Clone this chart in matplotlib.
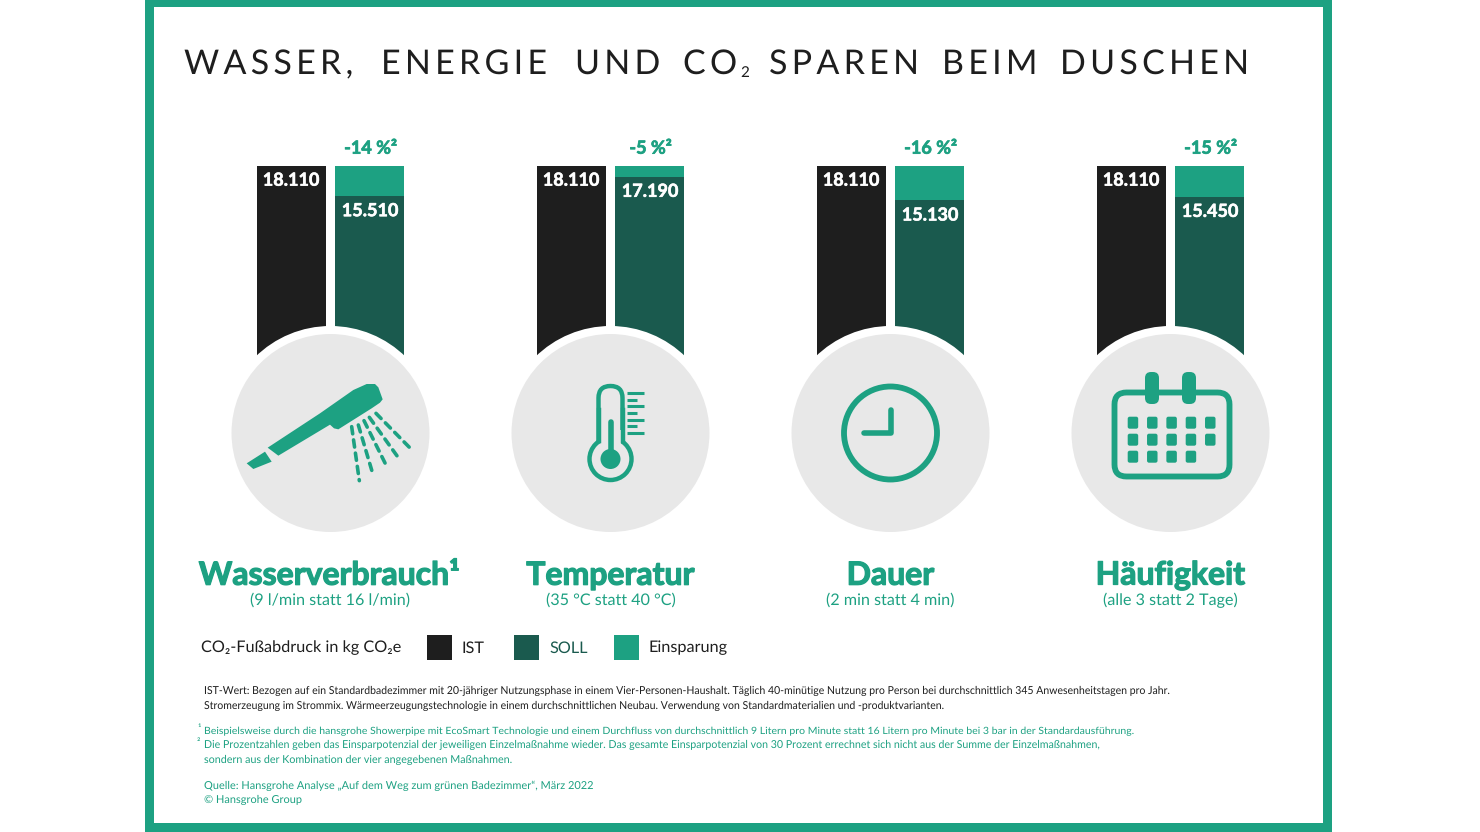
import matplotlib
matplotlib.use("Agg")
import matplotlib.pyplot as plt
import matplotlib.patheffects as pe
from matplotlib.patches import Rectangle, Circle, Polygon, FancyBboxPatch

# chart values
ist_values = [18110, 18110, 18110, 18110]
soll_values = [15510, 17190, 15130, 15450]
bar_labels_ist = ["18.110", "18.110", "18.110", "18.110"]
bar_labels_soll = ["15.510", "17.190", "15.130", "15.450"]
percent_labels = ["-14 %²", "-5 %²", "-16 %²", "-15 %²"]
headings = ["Wasserverbrauch¹", "Temperatur", "Dauer", "Häufigkeit"]
subheadings = ["(9 l/min statt 16 l/min)", "(35 °C statt 40 °C)", "(2 min statt 4 min)", "(alle 3 statt 2 Tage)"]

TEAL = "#1DA182"
DARK = "#1A5A4E"
BLACK = "#1E1E1E"
GREY = "#E8E8E8"
W, H = 1480, 832
PX_PER_UNIT = 0.01154
BASE_Y = 375
centers = [330.5, 610.5, 890.5, 1170.5]

plt.rcParams["font.family"] = ["Lato", "DejaVu Sans"]
plt.rcParams["text.hinting"] = "no_hinting"

fig = plt.figure(figsize=(W / 100, H / 100), dpi=100, facecolor="white")

# bars live on their own axes, y in kg CO2e
ax_bars = fig.add_axes([0, 0, 1, 1], zorder=1)
ax_bars.set_xlim(0, W)
ax_bars.set_ylim((BASE_Y - H) / PX_PER_UNIT, BASE_Y / PX_PER_UNIT)
ax_bars.axis("off")
bar_w = 69
for c, ist, soll in zip(centers, ist_values, soll_values):
    ax_bars.bar(c - 39.5, ist, width=bar_w, color=BLACK, linewidth=0)
    ax_bars.bar(c + 39, soll, width=bar_w, color=DARK, linewidth=0)
    ax_bars.bar(c + 39, ist - soll, bottom=soll, width=bar_w, color=TEAL, linewidth=0)
thin = [pe.withStroke(linewidth=0.4, foreground="white")]
thin_teal = [pe.withStroke(linewidth=0.5, foreground=TEAL)]
for c, ist, soll, l1, l2, p in zip(centers, ist_values, soll_values, bar_labels_ist, bar_labels_soll, percent_labels):
    ax_bars.text(c - 39.5, ist - 14.5 / PX_PER_UNIT, l1, color="white", fontsize=13, fontweight="bold",
                 ha="center", va="center", zorder=5, path_effects=thin)
    ax_bars.text(c + 39.5, soll - 15 / PX_PER_UNIT, l2, color="white", fontsize=13, fontweight="bold",
                 ha="center", va="center", zorder=5, path_effects=thin)
    ax_bars.text(c + 40, ist + 17.5 / PX_PER_UNIT, p, color=TEAL, fontsize=13, fontweight="bold",
                 ha="center", va="center", zorder=5, path_effects=thin_teal)

# everything else in pixel coordinates
ax = fig.add_axes([0, 0, 1, 1], zorder=2)
ax.patch.set_alpha(0)
ax.set_xlim(0, W)
ax.set_ylim(H, 0)
ax.axis("off")

# frame
for x, y, w, h in [(145, 0, 1187, 6.5), (145, 823, 1187, 9), (145, 0, 8.5, H), (1323, 0, 9, H)]:
    ax.add_patch(Rectangle((x, y), w, h, color=TEAL, linewidth=0))

# title, word by word since letters are spaced wide
title_words = [("WASSER,", 184), ("ENERGIE", 381), ("UND", 575), ("CO", 683), ("SPAREN", 769), ("BEIM", 942), ("DUSCHEN", 1060)]
for word, x in title_words:
    ax.text(x, 74, "\u2009".join(word), fontsize=24.5, color=BLACK, ha="left", va="baseline")
ax.text(740, 77, "2", fontsize=11, color=BLACK, ha="left", va="baseline")

# circles
for c in centers:
    ax.add_patch(Circle((c, 433), 107, color="white", linewidth=0))
    ax.add_patch(Circle((c, 433), 99, color=GREY, linewidth=0))


def zoom_pts(pts, ox, oy):
    return [(ox + x / 3, oy + y / 3) for x, y in pts]


# shower icon
handle = [(143, 353), (300, 250), (400, 180), (440, 162), (465, 162), (475, 172), (488, 208), (480, 218),
          (455, 235), (355, 298), (342, 295), (330, 284), (175, 377)]
nozzle = [(80, 400), (135, 365), (155, 395), (100, 417)]
ax.add_patch(Polygon(zoom_pts(handle, 220, 330), closed=True, color=TEAL, linewidth=0))
ax.add_patch(Polygon(zoom_pts(nozzle, 220, 330), closed=True, color=TEAL, linewidth=0))
rays = [((395, 290), (418, 452)), ((415, 285), (460, 437)), ((432, 272), (503, 415)),
        ((448, 262), (540, 390)), ((468, 250), (578, 362))]
for a, b in rays:
    pts = zoom_pts([a, b], 220, 330)
    ax.plot([pts[0][0], pts[1][0]], [pts[0][1], pts[1][1]], color=TEAL, lw=2.6,
            dashes=(2.0, 1.7), dash_capstyle="round")

# thermometer icon
tc = 610.5
ax.add_patch(FancyBboxPatch((tc - 12, 386), 24, 70, boxstyle="round,pad=0,rounding_size=12",
                            facecolor="none", edgecolor=TEAL, linewidth=3.2))
ax.add_patch(Circle((tc, 459), 21, facecolor=GREY, edgecolor=TEAL, linewidth=3.2))
ax.add_patch(Rectangle((tc - 10, 430), 20, 32, color=GREY, linewidth=0, zorder=3))
ax.plot([tc - 12, tc - 12], [410, 441], color=TEAL, lw=3.2, zorder=4)
ax.plot([tc + 12, tc + 12], [410, 441], color=TEAL, lw=3.2, zorder=4)
ax.add_patch(Circle((tc, 459), 10, color=TEAL, linewidth=0, zorder=4))
ax.plot([tc, tc], [422, 455], color=TEAL, lw=4, solid_capstyle="round", zorder=4)
for y, x2 in zip([392.7, 399.7, 406.3, 413, 419.7, 426.3, 433], [644, 636.5, 644, 636.5, 644, 636.5, 644]):
    ax.plot([627, x2], [y, y], color=TEAL, lw=2.2, solid_capstyle="butt")

# clock icon
ax.add_patch(Circle((890.5, 433), 46.5, facecolor="none", edgecolor=TEAL, linewidth=4.2))
ax.plot([864, 890.5, 890.5], [433, 433, 410], color=TEAL, lw=4, solid_capstyle="round", solid_joinstyle="round")

# calendar icon
ax.add_patch(FancyBboxPatch((1114.5, 392.5), 115, 84, boxstyle="round,pad=0,rounding_size=12",
                            facecolor="none", edgecolor=TEAL, linewidth=4.2))
for x in [1145, 1182]:
    ax.add_patch(FancyBboxPatch((x, 372), 14, 32, boxstyle="round,pad=0,rounding_size=6",
                                facecolor=TEAL, edgecolor="none"))
cal_counts = [5, 5, 4]
for y, n in zip([416.7, 433.7, 450.7], cal_counts):
    for k in range(n):
        ax.add_patch(FancyBboxPatch((1127.7 + 19.33 * k, y), 10.5, 12, boxstyle="round,pad=0,rounding_size=2",
                                    facecolor=TEAL, edgecolor="none"))

# headings
fat = [pe.withStroke(linewidth=0.9, foreground=TEAL)]
for c, h, s in zip(centers, headings, subheadings):
    ax.text(c - 1 if h.endswith("¹") else c, 575.5, h, color=TEAL, fontsize=23, fontweight="bold",
            ha="center", va="center", path_effects=fat)
    ax.text(c, 600.5, s, color=TEAL, fontsize=11.6, ha="center", va="center")

# legend
ax.text(201, 648, "CO₂-Fußabdruck in kg CO₂e", color=BLACK, fontsize=11.7, ha="left", va="center")
for x, col, name, tx in [(427, BLACK, "IST", 462), (514, DARK, "SOLL", 549), (614, TEAL, "Einsparung", 649)]:
    ax.add_patch(Rectangle((x, 635), 25, 25, color=col, linewidth=0))
    ax.text(tx, 648, name, color=DARK if name == "SOLL" else BLACK, fontsize=11.7, ha="left", va="center")

# footnotes, font size fitted so each line ends where the reference does
notes = [(691, 1167, BLACK, "IST-Wert: Bezogen auf ein Standardbadezimmer mit 20-jähriger Nutzungsphase in einem Vier-Personen-Haushalt. Täglich 40-minütige Nutzung pro Person bei durchschnittlich 345 Anwesenheitstagen pro Jahr."),
         (706, 944, BLACK, "Stromerzeugung im Strommix. Wärmeerzeugungstechnologie in einem durchschnittlichen Neubau. Verwendung von Standardmaterialien und -produktvarianten."),
         (731, 1128, TEAL, "Beispielsweise durch die hansgrohe Showerpipe mit EcoSmart Technologie und einem Durchfluss von durchschnittlich 9 Litern pro Minute statt 16 Litern pro Minute bei 3 bar in der Standardausführung."),
         (745, 1101, TEAL, "Die Prozentzahlen geben das Einsparpotenzial der jeweiligen Einzelmaßnahme wieder. Das gesamte Einsparpotenzial von 30 Prozent errechnet sich nicht aus der Summe der Einzelmaßnahmen,"),
         (760, 512, TEAL, "sondern aus der Kombination der vier angegebenen Maßnahmen."),
         (786, 591, TEAL, "Quelle: Hansgrohe Analyse „Auf dem Weg zum grünen Badezimmer“, März 2022"),
         (800, 301, TEAL, "© Hansgrohe Group")]
renderer = fig.canvas.get_renderer()
for y, right, col, t in notes:
    txt = ax.text(204, y, t, color=col, fontsize=7.6, ha="left", va="center")
    width = txt.get_window_extent(renderer).width
    txt.set_fontsize(7.6 * (right - 204) / width)
ax.text(197, 729, "¹", color=TEAL, fontsize=7.5, ha="left", va="center")
ax.text(197, 743, "²", color=TEAL, fontsize=7.5, ha="left", va="center")

fig.savefig("out.png", dpi=100)
